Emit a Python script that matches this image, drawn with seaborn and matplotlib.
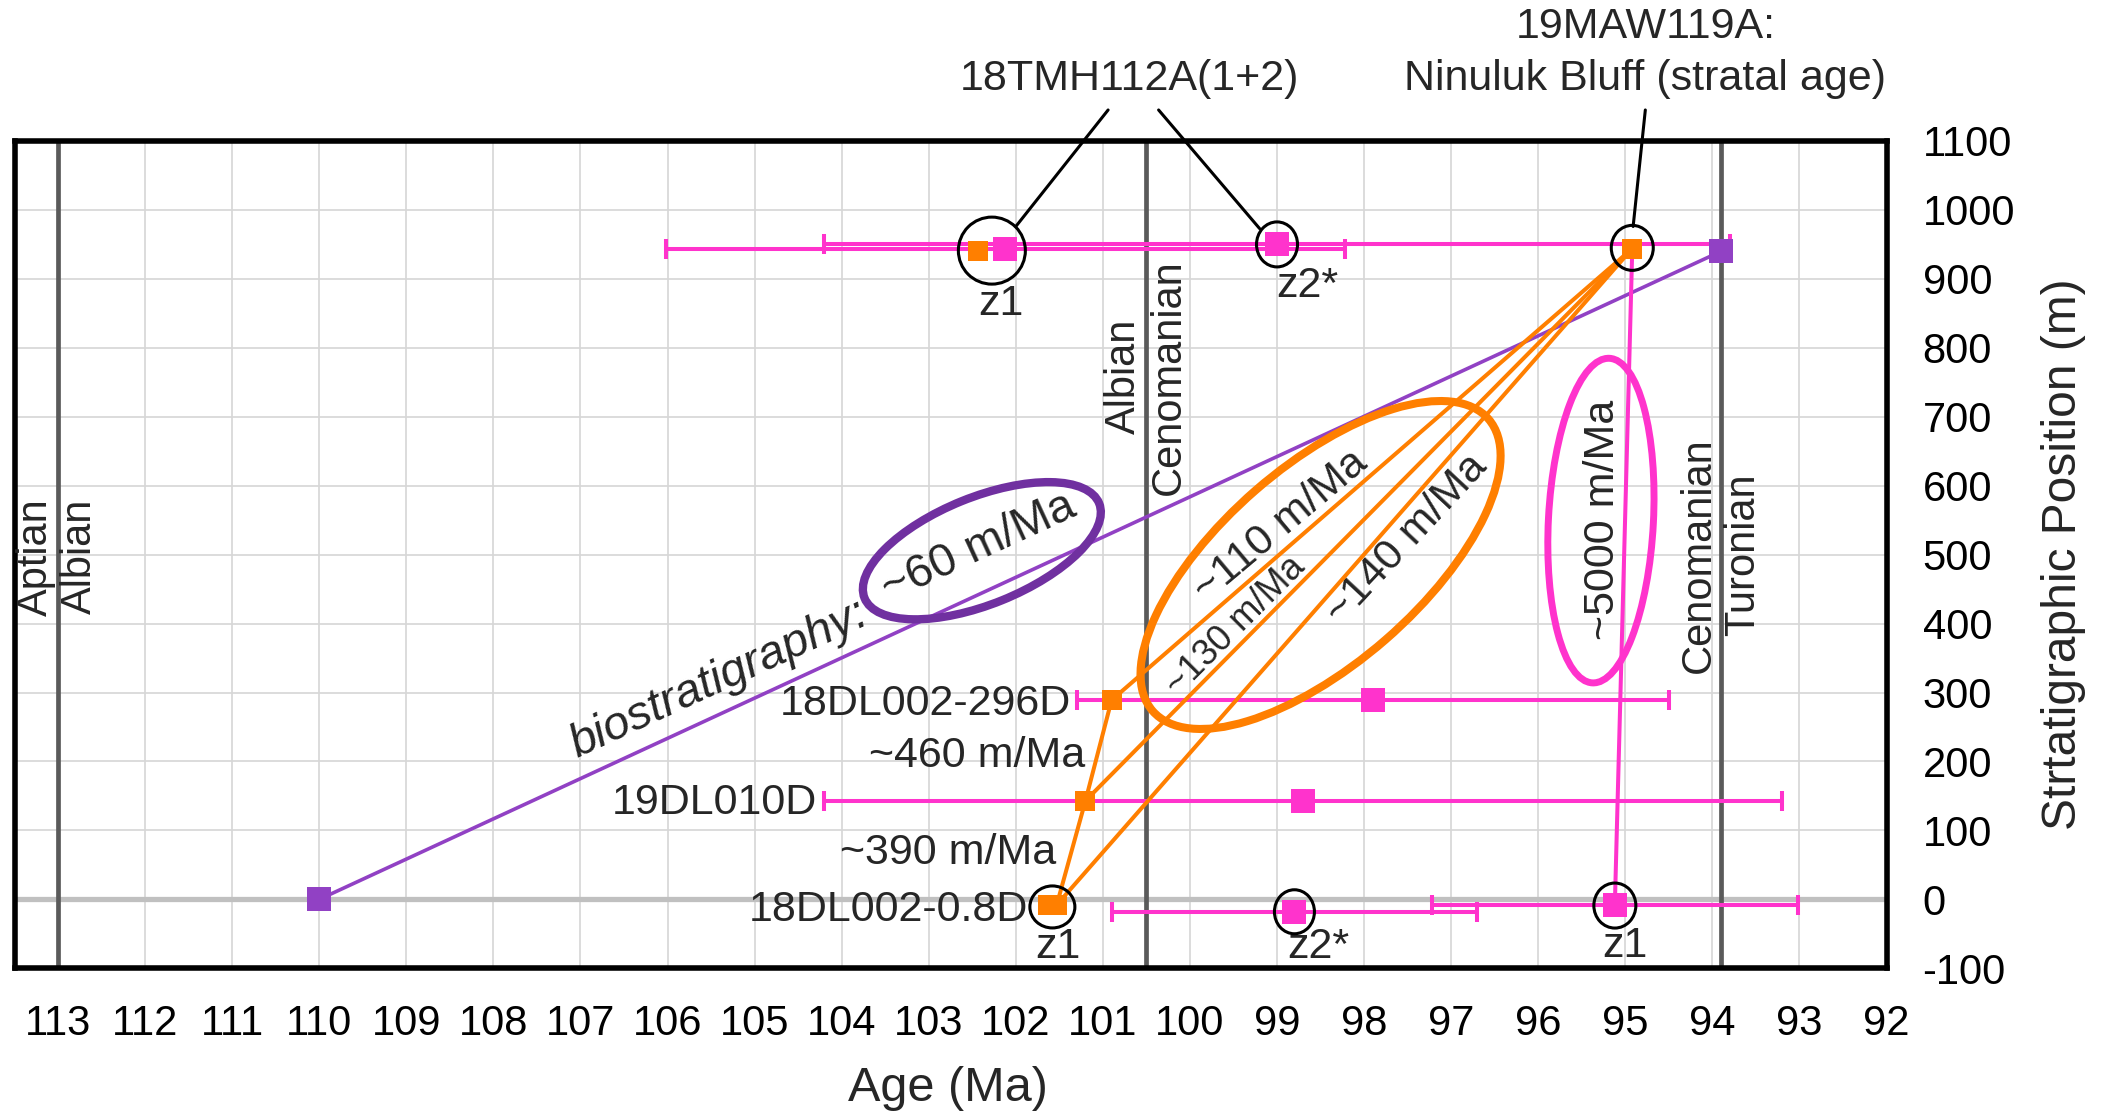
import matplotlib
matplotlib.use("Agg")
import matplotlib.pyplot as plt
import matplotlib.transforms as mtransforms
from matplotlib.patches import Ellipse
import pandas as pd
import seaborn as sns

# ---------------- data ----------------
# Zircon U-Pb ages (Ma) with half-width uncertainty, plotted at stratigraphic position (m)
pink_sample = ["18TMH112A z1", "18TMH112A z2*", "18DL002-296D", "19DL010D",
               "18DL002-0.8D z2*", "18DL002-0.8D z1"]
pink_age = [102.12, 99.0, 97.9, 98.7, 98.8, 95.12]
pink_err = [3.9, 5.2, 3.4, 5.5, 2.1, 2.1]
pink_pos = [943, 951, 289, 143, -19, -8]

# Youngest-grain ages used for accumulation-rate estimates
orange_sample = ["18DL002-0.8D a", "18DL002-0.8D", "19DL010D", "18DL002-296D",
                 "18TMH112A z1", "19MAW119A"]
orange_age = [101.63, 101.53, 101.2, 100.9, 102.43, 94.92]
orange_pos = [-8, -8, 143, 289, 941, 944]

# Biostratigraphic tie points
bio_age = [110.0, 93.9]
bio_pos = [0, 940]

# Stage boundaries
stage_bound = [113.0, 100.5, 93.9]
stage_older = ["Aptian", "Albian", "Cenomanian"]
stage_younger = ["Albian", "Cenomanian", "Turonian"]
stage_label_y = [497, 758, 500]

x_ticks = list(range(113, 91, -1))
y_ticks = list(range(-100, 1101, 100))

# ---------------- style ----------------
PINK = "#ff33cc"
ORANGE = "#ff7f00"
PURPLE = "#9141c4"
PURPLE_DARK = "#7030a0"
FS = 30      # ticks and stage names
AFS = 31     # annotations

sns.set_theme(style="white")
plt.rcParams["font.family"] = ["Liberation Sans", "DejaVu Sans"]

fig = plt.figure(figsize=(21.08, 11.13), dpi=100)
ax = fig.add_axes([0.00688, 0.13001, 0.88805, 0.74331])

ax.set_xlim(113.5, 92)
ax.set_ylim(-100, 1100)
ax.set_xticks(x_ticks)
ax.set_yticks(y_ticks)
ax.set_xticklabels([str(t) for t in x_ticks])
ax.set_yticklabels([str(t) for t in y_ticks])
ax.yaxis.tick_right()
ax.yaxis.set_label_position("right")
ax.tick_params(axis="both", length=0, labelsize=FS, pad=26, colors="black")
ax.grid(True, color="#d6d6d6", lw=1.2, zorder=0)
ax.set_axisbelow(True)
for sp in ax.spines.values():
    sp.set_color("black")
    sp.set_linewidth(4)
    sp.set_visible(True)

ax.set_xlabel("Age (Ma)", fontsize=35)
ax.set_ylabel("Strtatigraphic Position (m)", fontsize=34.5)
ax.xaxis.set_label_coords(0.4988, -0.118)
ax.yaxis.set_label_coords(1.0827, 0.5)

# zero line and stage boundaries
ax.axhline(0, color="#c0c0c0", lw=3.8, zorder=1)
for b, old, young, yl in zip(stage_bound, stage_older, stage_younger, stage_label_y):
    ax.axvline(b, color="#5a5a5a", lw=3.4, zorder=1)
    ax.annotate(old, (b, yl), xytext=(-22, 0), textcoords="offset pixels",
                rotation=90, ha="center", va="center", fontsize=FS)
    ax.annotate(young, (b, yl), xytext=(22, 0), textcoords="offset pixels",
                rotation=90, ha="center", va="center", fontsize=FS)

pink = pd.DataFrame({"sample": pink_sample, "age": pink_age, "err": pink_err, "pos": pink_pos})
orange = pd.DataFrame({"sample": orange_sample, "age": orange_age, "pos": orange_pos})
bio = pd.DataFrame({"age": bio_age, "pos": bio_pos})
og = orange.set_index("sample")
pk = pink.set_index("sample")

# error bars
ax.errorbar(pink["age"], pink["pos"], xerr=pink["err"], fmt="none", ecolor=PINK,
            elinewidth=2.9, capsize=7.5, capthick=2.9, zorder=3)

# biostratigraphic rate line
sns.lineplot(data=bio, x="age", y="pos", sort=False, estimator=None, color=PURPLE,
             lw=2.6, ax=ax, zorder=4)

# orange accumulation-rate lines
chain = ["18DL002-0.8D", "19DL010D", "18DL002-296D"]
sns.lineplot(x=og.loc[chain, "age"].values, y=og.loc[chain, "pos"].values, sort=False,
             estimator=None, color=ORANGE, lw=2.9, ax=ax, zorder=4)
top = "19MAW119A"
for s in chain:
    ax.plot([og.loc[s, "age"], og.loc[top, "age"]], [og.loc[s, "pos"], og.loc[top, "pos"]],
            color=ORANGE, lw=2.9, zorder=4)

# pink near-vertical line
ax.plot([pk.loc["18DL002-0.8D z1", "age"], og.loc[top, "age"]],
        [pk.loc["18DL002-0.8D z1", "pos"], og.loc[top, "pos"]], color=PINK, lw=2.9, zorder=4)

# markers
sns.scatterplot(data=pink, x="age", y="pos", marker="s", s=300, color=PINK,
                edgecolor="none", linewidth=0, ax=ax, zorder=6)
sns.scatterplot(data=orange, x="age", y="pos", marker="s", s=207, color=ORANGE,
                edgecolor="none", linewidth=0, ax=ax, zorder=7)
sns.scatterplot(data=bio, x="age", y="pos", marker="s", s=300, color=PURPLE,
                edgecolor="none", linewidth=0, ax=ax, zorder=7)


def pixel_ellipse(x, y, w, h, angle=0, **kw):
    tr = mtransforms.Affine2D() + mtransforms.ScaledTranslation(x, y, ax.transData)
    ax.add_patch(Ellipse((0, 0), w, h, angle=angle, transform=tr, fill=False,
                         clip_on=False, **kw))


# black circles around dated grains
circ = dict(edgecolor="black", lw=2.2, zorder=8)
pixel_ellipse((og.loc["18TMH112A z1", "age"] + pk.loc["18TMH112A z1", "age"]) / 2, 941, 67, 67, **circ)
pixel_ellipse(pk.loc["18TMH112A z2*", "age"], 950, 41, 45, **circ)
pixel_ellipse(og.loc[top, "age"], 945, 42, 45, **circ)
pixel_ellipse(101.58, -11, 45, 42, **circ)
pixel_ellipse(pk.loc["18DL002-0.8D z2*", "age"], -18, 40, 44, **circ)
pixel_ellipse(pk.loc["18DL002-0.8D z1", "age"], -9, 42, 45, **circ)

# rate ellipses
pixel_ellipse(102.39, 505.7, 253, 107, 22, edgecolor=PURPLE_DARK, lw=6, zorder=5)
pixel_ellipse(98.50, 485, 445, 198, 41, edgecolor=ORANGE, lw=5.8, zorder=5)
pixel_ellipse(95.28, 549.4, 325, 105, 87, edgecolor=PINK, lw=5, zorder=5)

# leader lines
for (x0, y0), (x1, y1) in [((100.94, 1145), (102.0, 976)),
                           ((100.36, 1145), (99.2, 973)),
                           ((94.77, 1145), (94.91, 976))]:
    ax.plot([x0, x1], [y0, y1], color="black", lw=2.2, clip_on=False, zorder=8)

# text annotations
ax.text(100.69, 1173.6, "18TMH112A(1+2)", ha="center", va="baseline", fontsize=AFS)
ax.text(94.77, 1249, "19MAW119A:", ha="center", va="baseline", fontsize=AFS)
ax.text(94.77, 1173.6, "Ninuluk Bluff (stratal age)", ha="center", va="baseline", fontsize=AFS)

ax.text(101.37, 266.8, "18DL002-296D", ha="right", va="baseline", fontsize=AFS)
ax.text(104.28, 123.6, "19DL010D", ha="right", va="baseline", fontsize=AFS)
ax.text(101.86, -32, "18DL002-0.8D", ha="right", va="baseline", fontsize=AFS)
ax.text(102.44, 191.5, "~460 m/Ma", ha="center", va="baseline", fontsize=AFS)
ax.text(102.78, 50.6, "~390 m/Ma", ha="center", va="baseline", fontsize=AFS)

ax.text(102.17, 848, "z1", ha="center", va="baseline", fontsize=AFS)
ax.text(99.01, 874, "z2*", ha="left", va="baseline", fontsize=AFS)
ax.text(101.515, -85.4, "z1", ha="center", va="baseline", fontsize=AFS)
ax.text(98.88, -85.4, "z2*", ha="left", va="baseline", fontsize=AFS)
ax.text(95.0, -83, "z1", ha="center", va="baseline", fontsize=AFS)

ax.text(105.41, 319, "biostratigraphy:", ha="center", va="center", rotation=24.7,
        style="italic", fontsize=34)
ax.text(102.43, 510, "~60 m/Ma", ha="center", va="center", rotation=24.7, fontsize=33.5)
ax.text(98.955, 541, "~110 m/Ma", ha="center", va="center", rotation=40, fontsize=AFS)
ax.text(99.48, 397, "~130 m/Ma", ha="center", va="center", rotation=45, fontsize=26)
ax.text(97.51, 522, "~140 m/Ma", ha="center", va="center", rotation=47, fontsize=AFS)
ax.text(95.26, 551, "~5000 m/Ma", ha="center", va="center", rotation=90, fontsize=AFS)

fig.savefig("out.png", dpi=100)
